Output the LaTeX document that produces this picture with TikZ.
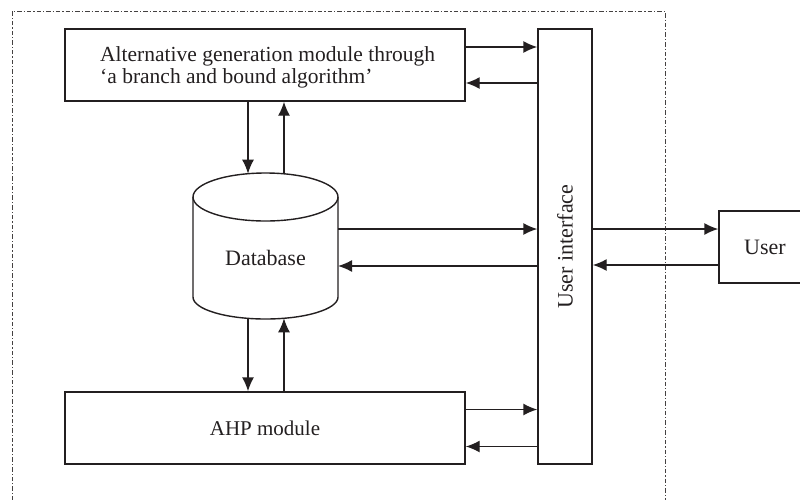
\documentclass[tikz,border=0pt]{standalone}
\usepackage{fontspec}
\setmainfont{Liberation Serif}
\usetikzlibrary{arrows.meta}
\definecolor{ink}{HTML}{231F20}
\tikzset{
  box/.style={draw=ink, line width=1.4pt, rectangle, inner sep=0pt, font=\fontsize{21}{22}\selectfont, text=ink},
  arr/.style={draw=ink, line width=1.4pt, -{Latex[length=14pt,width=12pt]}},
  frame/.style={draw=ink!85, line width=1pt, dash pattern=on 4.5pt off 2pt on 1.2pt off 2pt},
  lbl/.style={font=\fontsize{22}{22}\selectfont, text=ink, inner sep=0pt}
}
\begin{document}
\begin{tikzpicture}[x=1pt,y=-1pt]
\useasboundingbox (0,0) rectangle (800,499);
\clip (0,0) rectangle (800,499);
% frame
\draw[frame] (12,520) -- (12,11) -- (665,11) -- (665,520);
% boxes
\node[box, minimum width=400pt, minimum height=72pt] (gen) at (265,65) {};
\node[lbl, font=\fontsize{21.5}{22}\selectfont, anchor=west, align=left] (genl) at (100,67)
  {Alternative generation module through\\‘a branch and bound algorithm’};
\node[box, minimum width=54pt, minimum height=435pt] (ui) at (565,246.5) {};
\node[lbl, rotate=90] (uil) at (ui.center) {User interface};
\node[box, minimum width=400pt, minimum height=72pt] (ahp) at (265,428) {AHP module};
\node[box, minimum width=92pt, minimum height=72pt, font=\fontsize{22}{22}\selectfont] (user) at (765,247) {User};
% database cylinder
\draw[draw=ink, line width=1.4pt] (193,197) -- (193,297) arc[start angle=180, end angle=360, x radius=72.5pt, y radius=22pt] -- (338,197);
\draw[draw=ink, line width=1.4pt] (265.5,197) ellipse[x radius=72.5pt, y radius=24pt];
\node[lbl] (db) at (265.5,258) {Database};
\coordinate (dbt1) at (248,173.7);
\coordinate (dbt2) at (284,173.8);
\coordinate (dbb1) at (248,318.4);
\coordinate (dbb2) at (284,318.3);
\coordinate (dbr1) at (338,229);
\coordinate (dbr2) at (338,266);
% gen <-> ui
\coordinate (g1) at ([yshift=18pt]gen.east);
\coordinate (g2) at ([yshift=-18pt]gen.east);
\draw[arr] (g1) -- (g1 -| ui.west);
\draw[arr] (g2 -| ui.west) -- (g2);
% gen <-> db
\draw[arr] (dbt1 |- gen.south) -- (dbt1);
\draw[arr] (dbt2) -- (dbt2 |- gen.south);
% db <-> ahp
\draw[arr] (dbb1) -- (dbb1 |- ahp.north);
\draw[arr] (dbb2 |- ahp.north) -- (dbb2);
% db <-> ui
\draw[arr] (dbr1) -- (dbr1 -| ui.west);
\draw[arr] (dbr2 -| ui.west) -- (dbr2);
% ahp <-> ui
\coordinate (a1) at ([yshift=18.5pt]ahp.east);
\coordinate (a2) at ([yshift=-18.5pt]ahp.east);
\draw[arr] (a1) -- (a1 -| ui.west);
\draw[arr] (a2 -| ui.west) -- (a2);
% ui <-> user
\coordinate (u1) at ([yshift=18pt]user.west);
\coordinate (u2) at ([yshift=-18pt]user.west);
\draw[arr] (u1 -| ui.east) -- (u1);
\draw[arr] (u2) -- (u2 -| ui.east);
\end{tikzpicture}
\end{document}
